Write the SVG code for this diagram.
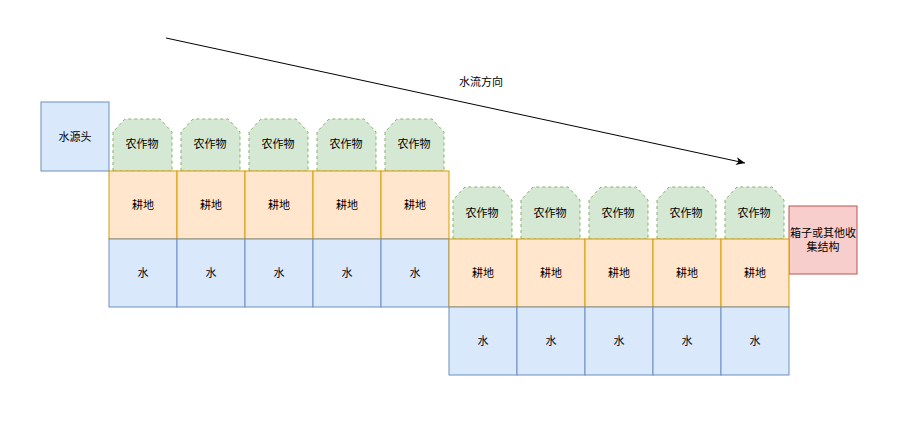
<svg xmlns="http://www.w3.org/2000/svg" width="902" height="421" viewBox="0 0 902 421">
<style>
text{font-family:"Liberation Sans","Noto Sans CJK SC",sans-serif;font-size:11px;fill:#000;text-anchor:middle;dominant-baseline:central}
.w{fill:#dae8fc;stroke:#6c8ebf;stroke-width:1}
.f{fill:#ffe6cc;stroke:#d79b00;stroke-width:1}
.c{fill:#d5e8d4;stroke:#82b366;stroke-width:1;stroke-dasharray:3 3}
.r{fill:#f8cecc;stroke:#b85450;stroke-width:1}
</style>
<defs>
<marker id="ah" markerWidth="10" markerHeight="10" refX="9" refY="5" orient="auto" markerUnits="userSpaceOnUse">
<path d="M0,1 L9,5 L0,9 L2.5,5 Z" fill="#000"/>
</marker>
<path id="crop" d="M0,52 L0,13 L12,0 L47,0 L59,13 L59,52 Z"/>
</defs>
<rect width="902" height="421" fill="#fff"/>
<g id="connectors">
<line x1="166" y1="38" x2="745" y2="163" stroke="#000" stroke-width="1" marker-end="url(#ah)"/>
<text x="481" y="82">水流方向</text>
</g>
<g id="source"><rect class="w" x="41" y="102" width="68" height="69"/><text x="75" y="137">水源头</text></g>
<g id="collector"><rect class="r" x="789" y="206" width="68" height="68"/><text x="823" y="233">箱子或其他收</text><text x="823" y="247">集结构</text></g>
<!-- upper row -->
<g id="crop1"><use href="#crop" class="c" x="113" y="119"/><text x="142" y="144">农作物</text></g>
<g id="crop2"><use href="#crop" class="c" x="181" y="119"/><text x="210" y="144">农作物</text></g>
<g id="crop3"><use href="#crop" class="c" x="249" y="119"/><text x="278" y="144">农作物</text></g>
<g id="crop4"><use href="#crop" class="c" x="317" y="119"/><text x="346" y="144">农作物</text></g>
<g id="crop5"><use href="#crop" class="c" x="385" y="119"/><text x="414" y="144">农作物</text></g>
<g id="field1"><rect class="f" x="109" y="171" width="68" height="68"/><text x="143" y="205">耕地</text></g>
<g id="field2"><rect class="f" x="177" y="171" width="68" height="68"/><text x="211" y="205">耕地</text></g>
<g id="field3"><rect class="f" x="245" y="171" width="68" height="68"/><text x="279" y="205">耕地</text></g>
<g id="field4"><rect class="f" x="313" y="171" width="68" height="68"/><text x="347" y="205">耕地</text></g>
<g id="field5"><rect class="f" x="381" y="171" width="68" height="68"/><text x="415" y="205">耕地</text></g>
<g id="water1"><rect class="w" x="109" y="239" width="68" height="68"/><text x="143" y="273">水</text></g>
<g id="water2"><rect class="w" x="177" y="239" width="68" height="68"/><text x="211" y="273">水</text></g>
<g id="water3"><rect class="w" x="245" y="239" width="68" height="68"/><text x="279" y="273">水</text></g>
<g id="water4"><rect class="w" x="313" y="239" width="68" height="68"/><text x="347" y="273">水</text></g>
<g id="water5"><rect class="w" x="381" y="239" width="68" height="68"/><text x="415" y="273">水</text></g>
<!-- lower row -->
<g id="crop6"><use href="#crop" class="c" x="453" y="187"/><text x="482" y="213">农作物</text></g>
<g id="crop7"><use href="#crop" class="c" x="521" y="187"/><text x="550" y="213">农作物</text></g>
<g id="crop8"><use href="#crop" class="c" x="589" y="187"/><text x="618" y="213">农作物</text></g>
<g id="crop9"><use href="#crop" class="c" x="657" y="187"/><text x="686" y="213">农作物</text></g>
<g id="crop10"><use href="#crop" class="c" x="725" y="187"/><text x="754" y="213">农作物</text></g>
<g id="field6"><rect class="f" x="449" y="239" width="68" height="68"/><text x="483" y="273">耕地</text></g>
<g id="field7"><rect class="f" x="517" y="239" width="68" height="68"/><text x="551" y="273">耕地</text></g>
<g id="field8"><rect class="f" x="585" y="239" width="68" height="68"/><text x="619" y="273">耕地</text></g>
<g id="field9"><rect class="f" x="653" y="239" width="68" height="68"/><text x="687" y="273">耕地</text></g>
<g id="field10"><rect class="f" x="721" y="239" width="68" height="68"/><text x="755" y="273">耕地</text></g>
<g id="water6"><rect class="w" x="449" y="307" width="68" height="68"/><text x="483" y="341">水</text></g>
<g id="water7"><rect class="w" x="517" y="307" width="68" height="68"/><text x="551" y="341">水</text></g>
<g id="water8"><rect class="w" x="585" y="307" width="68" height="68"/><text x="619" y="341">水</text></g>
<g id="water9"><rect class="w" x="653" y="307" width="68" height="68"/><text x="687" y="341">水</text></g>
<g id="water10"><rect class="w" x="721" y="307" width="68" height="68"/><text x="755" y="341">水</text></g>
</svg>
